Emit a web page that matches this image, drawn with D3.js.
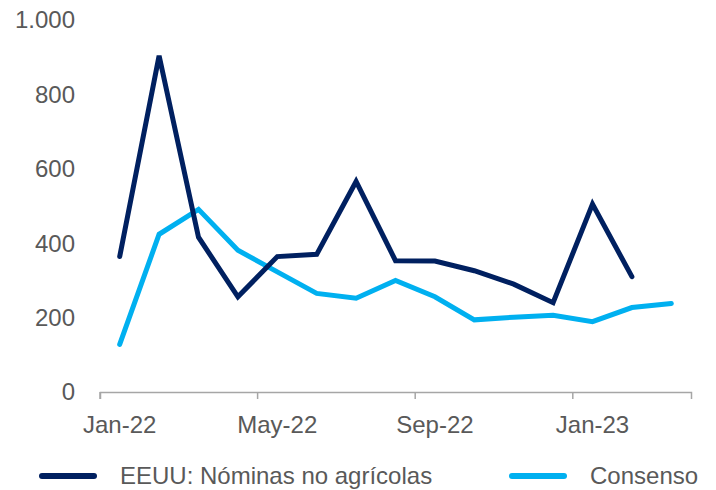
<!DOCTYPE html>
<html>
<head>
<meta charset="utf-8">
<script src="https://cdn.jsdelivr.net/npm/d3@7"></script>
<style>
    body { margin: 0; background: #fff; }
    svg text { font-family: "Liberation Sans", Arial, sans-serif; fill: #595959; }
</style>
</head>
<body>
<svg id="chart" width="716" height="490"></svg>
<script>
    // months on the category axis
    const months = ["Jan-22", "Feb-22", "Mar-22", "Apr-22", "May-22", "Jun-22", "Jul-22", "Aug-22",
        "Sep-22", "Oct-22", "Nov-22", "Dec-22", "Jan-23", "Feb-23", "Mar-23"];

    // EEUU: Nóminas no agrícolas (miles)
    const nominas = [364, 904, 416, 256, 364, 370, 566, 353, 352, 326, 290, 240, 505, 310];

    // Consenso
    const consenso = [128, 424, 491, 381, 323, 265, 252, 300, 256, 194, 201, 206, 189, 227, 238];

    const yTicks = [0, 200, 400, 600, 800, 1000];
    const xLabels = ["Jan-22", "May-22", "Sep-22", "Jan-23"];

    const series = [
        { name: "EEUU: Nóminas no agrícolas", values: nominas, color: "#002060" },
        { name: "Consenso", values: consenso, color: "#00B0F0" }
    ];

    const svg = d3.select("#chart");

    const x = d3.scaleBand().domain(months).range([100, 691]);
    const y = d3.scaleLinear().domain([0, 1000]).range([392, 20]);

    const fmt = d3.formatLocale({ decimal: ",", thousands: ".", grouping: [3], currency: ["", "€"] }).format(",d");

    /* ------------------------------
       AXES
    ------------------------------ */

    svg.append("g")
        .selectAll("text")
        .data(yTicks)
        .enter()
        .append("text")
        .attr("x", 75)
        .attr("y", d => y(d))
        .attr("dy", "0.35em")
        .attr("text-anchor", "end")
        .style("font-size", "24px")
        .text(d => fmt(d));

    const xAxis = svg.append("g")
        .attr("transform", "translate(0,392)")
        .call(d3.axisBottom(x).tickValues(xLabels).tickSizeOuter(0).tickSize(7).tickPadding(0));

    xAxis.select(".domain").attr("stroke", "#a6a6a6").attr("stroke-width", 1.5);
    xAxis.selectAll(".tick line")
        .attr("stroke", "#a6a6a6")
        .attr("stroke-width", 1.5)
        .attr("x1", -x.bandwidth() / 2)
        .attr("x2", -x.bandwidth() / 2);
    xAxis.selectAll(".tick text")
        .attr("y", 41)
        .attr("dy", null)
        .style("font-size", "24px")
        .style("font-family", "Liberation Sans, Arial, sans-serif")
        .attr("fill", "#595959");

    /* ------------------------------
       LINES
    ------------------------------ */

    const line = d3.line()
        .x((d, i) => x(months[i]) + x.bandwidth() / 2)
        .y(d => y(d));

    svg.selectAll("path.series")
        .data(series.slice().reverse())
        .enter()
        .append("path")
        .attr("class", "series")
        .attr("d", d => line(d.values))
        .attr("fill", "none")
        .attr("stroke", d => d.color)
        .attr("stroke-width", 5)
        .attr("stroke-linejoin", "miter")
        .attr("stroke-linecap", "round");

    /* ------------------------------
       LEGEND
    ------------------------------ */

    const legendX = [42, 512];

    const legend = svg.selectAll("g.legend")
        .data(series)
        .enter()
        .append("g")
        .attr("class", "legend")
        .attr("transform", (d, i) => "translate(" + legendX[i] + ",476)");

    legend.append("line")
        .attr("x1", 0)
        .attr("x2", 52)
        .attr("stroke", d => d.color)
        .attr("stroke-width", 6)
        .attr("stroke-linecap", "round");

    legend.append("text")
        .attr("x", 78)
        .attr("dy", "0.35em")
        .style("font-size", "24px")
        .text(d => d.name);
</script>
</body>
</html>
